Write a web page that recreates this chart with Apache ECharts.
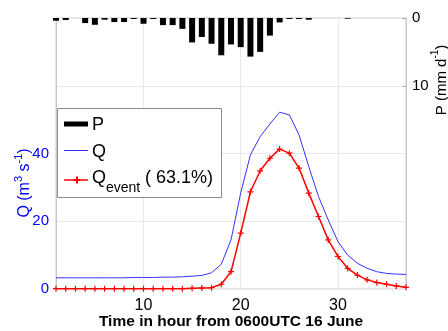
<!DOCTYPE html>
<html>
<head>
<meta charset="utf-8">
<script src="https://cdn.jsdelivr.net/npm/echarts@6/dist/echarts.min.js"></script>
<style>
html,body{margin:0;padding:0;background:#fff;}
#chart{width:448px;height:331px;}
</style>
</head>
<body>
<div id="chart"></div>
<script>
const hours = [1,2,3,4,5,6,7,8,9,10,11,12,13,14,15,16,17,18,19,20,21,22,23,24,25,26,27,28,29,30,31,32,33,34,35,36,37];
const precip = [0.4,0.3,0,0.75,1.0,0.25,0.6,0.6,0.15,0.85,0.15,1.05,1.05,1.6,3.6,2.8,3.8,5.5,3.9,4.3,5.7,5.0,2.6,0.65,0.15,0.15,0.25,0,0,0,0.1,0,0,0,0,0,0];
const qTotal = [3.3,3.3,3.3,3.3,3.3,3.3,3.3,3.3,3.4,3.4,3.4,3.5,3.5,3.6,3.8,4.0,4.8,7.3,14.5,28.4,39.6,45.0,48.7,52.2,51.4,45.5,36.1,27.3,20.4,14.0,10.0,7.6,6.1,5.1,4.6,4.4,4.3];
const qEvent = [0.1,0.1,0.1,0.1,0.1,0.1,0.1,0.1,0.1,0.1,0.1,0.1,0.1,0.1,0.2,0.3,0.4,1.4,5.1,16.5,28.7,34.9,38.6,41.3,40.1,35.7,28.3,21.4,14.5,9.6,6.1,4.1,2.7,1.9,1.4,0.9,0.5];
const xTicks = [10,20,30];
const qTicks = [0,20,40];
const pTicks = [0,10];
const eventShare = '63.1%';

const FONT = '"Liberation Sans", Arial, Helvetica, sans-serif';
const plus = 'path://M4,0H6V4H10V6H6V10H4V6H0V4H4Z';
const pair = (arr) => hours.map((h, i) => [h, arr[i]]);

const chart = echarts.init(document.getElementById('chart'), null, {renderer: 'canvas'});
chart.setOption({
  animation: false,
  backgroundColor: '#fff',
  grid: {left: 56, right: 42, top: 18, bottom: 42, show: true, borderColor: '#c8c8c8', borderWidth: 1, containLabel: false},
  xAxis: {
    type: 'value', min: 1, max: 37,
    axisLine: {show: false},
    axisTick: {show: false, customValues: xTicks},
    axisLabel: {customValues: xTicks, color: '#000', fontSize: 16, fontFamily: FONT, margin: 9},
    splitLine: {show: true, lineStyle: {color: '#e8e8e8', width: 1}}
  },
  yAxis: [
    {
      type: 'value', min: 0, max: 80, interval: 20, position: 'left',
      axisLine: {show: true, lineStyle: {color: '#c8c8c8'}},
      axisTick: {show: false},
      axisLabel: {color: '#0000ff', fontSize: 15, fontFamily: FONT, margin: 7,
        formatter: (v) => qTicks.includes(v) ? String(v) : ''},
      splitLine: {show: true, lineStyle: {color: '#e8e8e8', width: 1}}
    },
    {
      type: 'value', min: 0, max: 40, interval: 10, position: 'right', inverse: true,
      axisLine: {show: true, lineStyle: {color: '#c8c8c8'}},
      axisTick: {show: true, inside: true, length: 4, customValues: pTicks, lineStyle: {color: '#b0b0b0'}},
      axisLabel: {color: '#000', fontSize: 15, fontFamily: FONT, margin: 6, customValues: pTicks},
      splitLine: {show: false}
    }
  ],
  series: [
    {
      name: 'P', type: 'bar', yAxisIndex: 1, data: pair(precip),
      barWidth: 6, itemStyle: {color: '#000'}, clip: true
    },
    {
      name: 'Q', type: 'line', yAxisIndex: 0, data: pair(qTotal),
      symbol: 'none', lineStyle: {color: '#3333ff', width: 1}, z: 3
    },
    {
      name: 'Qevent', type: 'line', yAxisIndex: 0, data: pair(qEvent),
      symbol: plus, symbolSize: 6, itemStyle: {color: '#ff0000'},
      lineStyle: {color: '#ff0000', width: 1.5}, z: 4
    }
  ],
  graphic: [
    {type: 'rect', shape: {x: 57.5, y: 108.5, width: 164, height: 89},
     style: {fill: '#fff', stroke: '#8a8a8a', lineWidth: 1}, z: 10},
    {type: 'line', shape: {x1: 64, y1: 124, x2: 88, y2: 124}, style: {stroke: '#000', lineWidth: 5}, z: 11},
    {type: 'text', x: 92, y: 125, style: {text: 'P', font: '18px ' + FONT, fill: '#000', verticalAlign: 'middle'}, z: 11},
    {type: 'line', shape: {x1: 64, y1: 150.5, x2: 88, y2: 150.5}, style: {stroke: '#3333ff', lineWidth: 1}, z: 11},
    {type: 'text', x: 92, y: 152, style: {text: 'Q', font: '18px ' + FONT, fill: '#000', verticalAlign: 'middle'}, z: 11},
    {type: 'line', shape: {x1: 64, y1: 180, x2: 88, y2: 180}, style: {stroke: '#ff0000', lineWidth: 1.5}, z: 11},
    {type: 'line', shape: {x1: 73.5, y1: 180, x2: 80.5, y2: 180}, style: {stroke: '#ff0000', lineWidth: 2}, z: 11},
    {type: 'line', shape: {x1: 77, y1: 176.5, x2: 77, y2: 183.5}, style: {stroke: '#ff0000', lineWidth: 2}, z: 11},
    {type: 'text', x: 92, y: 178, style: {text: 'Q', font: '18px ' + FONT, fill: '#000', verticalAlign: 'middle'}, z: 11},
    {type: 'text', x: 106, y: 188, style: {text: 'event', font: '14px ' + FONT, fill: '#000', verticalAlign: 'middle'}, z: 11},
    {type: 'text', x: 145, y: 178, style: {text: '( ' + eventShare + ')', font: '18px ' + FONT, fill: '#000', verticalAlign: 'middle'}, z: 11},
    {type: 'text', x: 23, y: 183, rotation: Math.PI / 2,
     style: {text: '{a|Q (m}{s|3}{a| s}{s|-1}{a|)}', align: 'center', verticalAlign: 'middle',
       rich: {a: {fontSize: 16, fontFamily: FONT, fill: '#0000ff', lineHeight: 20, verticalAlign: 'bottom'},
              s: {fontSize: 11, fontFamily: FONT, fill: '#0000ff', lineHeight: 20, verticalAlign: 'top'}}}, z: 11},
    {type: 'text', x: 440, y: 80, rotation: Math.PI / 2,
     style: {text: '{a|P (mm d}{s|-1}{a|)}', align: 'center', verticalAlign: 'middle',
       rich: {a: {fontSize: 15, fontFamily: FONT, fill: '#000', lineHeight: 19, verticalAlign: 'bottom'},
              s: {fontSize: 10, fontFamily: FONT, fill: '#000', lineHeight: 19, verticalAlign: 'top'}}}, z: 11},
    {type: 'text', x: 231, y: 322,
     style: {text: 'Time in hour from 0600UTC 16 June', font: 'bold 15.5px ' + FONT, fill: '#000',
       align: 'center', verticalAlign: 'middle'}, z: 11}
  ]
});
</script>
</body>
</html>
